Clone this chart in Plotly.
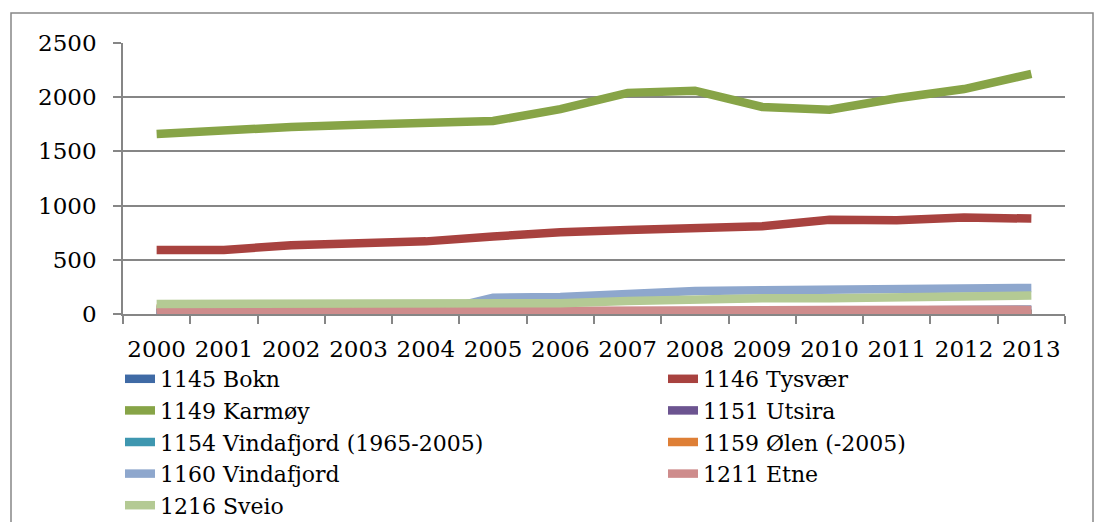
import plotly.graph_objects as go

years = [str(y) for y in range(2000, 2014)]

bokn      = [10, 10, 10, 10, 10, 10, 15, 20, 25, 25, 30, 30, 40, 40]
tysvaer   = [590, 590, 635, 645, 670, 715, 755, 775, 800, 810, 870, 865, 890, 880]
karmoy    = [1660, 1700, 1725, 1745, 1755, 1780, 1890, 2040, 2060, 1910, 1885, 1990, 2075, 2215]
utsira    = [2, 2, 2, 2, 2, 2, 2, 2, 2, 2, 2, 2, 2, 2]
vindafjord_old = [40, 40, 40, 45, 45, 45, 0, 0, 0, 0, 0, 0, 0, 0]
olen      = [50, 50, 50, 50, 55, 55, 0, 0, 0, 0, 0, 0, 0, 0]
vindafjord = [0, 0, 0, 0, 0, 150, 157, 185, 212, 218, 220, 225, 230, 240]
etne      = [18, 18, 18, 18, 18, 20, 22, 28, 32, 35, 38, 45, 40, 38]
sveio     = [92, 92, 95, 92, 100, 95, 100, 120, 138, 145, 145, 150, 160, 170]

series = [
    ("1145 Bokn", bokn, "#3F6AA5"),
    ("1146 Tysvær", tysvaer, "#A8423F"),
    ("1149 Karmøy", karmoy, "#87A447"),
    ("1151 Utsira", utsira, "#6C5490"),
    ("1154 Vindafjord (1965-2005)", vindafjord_old, "#3E97B0"),
    ("1159 Ølen (-2005)", olen, "#DE7F36"),
    ("1160 Vindafjord", vindafjord, "#8EA7CD"),
    ("1211 Etne", etne, "#CE8C8C"),
    ("1216 Sveio", sveio, "#B4CA94"),
]

fig = go.Figure()
for i, (name, vals, col) in enumerate(series):
    fig.add_trace(go.Scatter(x=years, y=vals, name=name, mode="lines",
                             line=dict(color=col, width=8.5),
                             legend="legend" if i % 2 == 0 else "legend2"))

W, H = 1102, 522
L, R, T, B = 123, 1065, 43, 314
pw, ph = R - L, B - T

def px(x):
    return (x - L) / pw

def py(y):
    return (B - y) / ph

grid = "#868686"
font = dict(family="DejaVu Serif", size=23, color="black")
legfont = dict(family="DejaVu Serif", size=22, color="black")

leg_common = dict(orientation="v", xanchor="left", y=py(358), yanchor="top",
                  font=legfont, tracegroupgap=0, itemwidth=30,
                  bgcolor="rgba(0,0,0,0)")

fig.update_layout(
    width=W, height=H,
    margin=dict(l=L, r=W - R, t=T, b=H - B, autoexpand=False),
    paper_bgcolor="white", plot_bgcolor="white",
    font=font,
    showlegend=True,
    legend=dict(x=px(120), **leg_common),
    legend2=dict(x=px(663), **leg_common),
    xaxis=dict(type="category", tickson="boundaries", ticks="outside", ticklen=8,
               tickcolor=grid, tickwidth=1.5, showline=True, linecolor=grid, linewidth=1.5,
               showgrid=False, ticklabelstandoff=14, tickangle=0,
               range=[-0.5, 13.5], fixedrange=True),
    yaxis=dict(range=[0, 2500], dtick=500, ticks="outside", ticklen=8, tickcolor=grid,
               tickwidth=1.5, showline=True, linecolor=grid, linewidth=1.5,
               showgrid=True, gridcolor=grid, gridwidth=1.5, zeroline=False,
               ticklabelstandoff=12, fixedrange=True),
    shapes=[dict(type="rect", xref="paper", yref="paper",
                 x0=px(11), x1=px(1093), y0=py(540), y1=py(13),
                 line=dict(color=grid, width=1.5), layer="below")],
)

fig.write_html("out.html", config={"displayModeBar": False},
               post_script="document.body.style.margin='0px';document.body.style.overflow='hidden';")
